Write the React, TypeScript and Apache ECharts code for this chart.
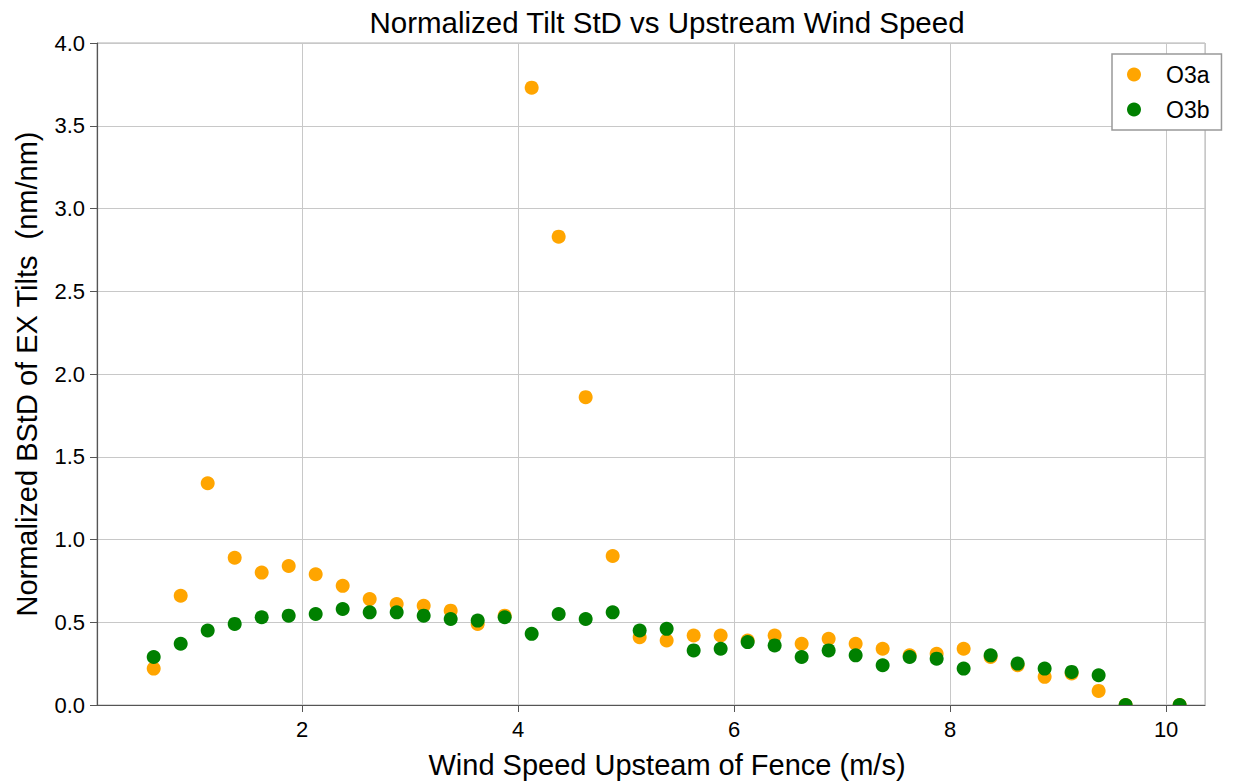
import React, { useEffect, useRef } from "react";
import * as echarts from "echarts";

const windSpeed = [
  0.625, 0.875, 1.125, 1.375, 1.625, 1.875, 2.125, 2.375, 2.625, 2.875,
  3.125, 3.375, 3.625, 3.875, 4.125, 4.375, 4.625, 4.875, 5.125, 5.375,
  5.625, 5.875, 6.125, 6.375, 6.625, 6.875, 7.125, 7.375, 7.625, 7.875,
  8.125, 8.375, 8.625, 8.875, 9.125, 9.375, 9.625, 10.125,
];

const o3a = [
  0.22, 0.66, 1.34, 0.89, 0.8, 0.84, 0.79, 0.72, 0.64, 0.61,
  0.6, 0.57, 0.49, 0.54, 3.73, 2.83, 1.86, 0.9, 0.41, 0.39,
  0.42, 0.42, 0.39, 0.42, 0.37, 0.4, 0.37, 0.34, 0.3, 0.31,
  0.34, 0.29, 0.24, 0.17, 0.19, 0.085, 0.0, 0.0,
];

const o3b = [
  0.29, 0.37, 0.45, 0.49, 0.53, 0.54, 0.55, 0.58, 0.56, 0.56,
  0.54, 0.52, 0.51, 0.53, 0.43, 0.55, 0.52, 0.56, 0.45, 0.46,
  0.33, 0.34, 0.38, 0.36, 0.29, 0.33, 0.3, 0.24, 0.29, 0.28,
  0.22, 0.3, 0.25, 0.22, 0.2, 0.18, 0.0, 0.0,
];

const seriesNames = ["O3a", "O3b"];
const seriesColors = ["#FFA500", "#008000"];

const FONT = "'Liberation Sans', Arial, Helvetica, sans-serif";

export default function App() {
  const ref = useRef<HTMLDivElement>(null);
  useEffect(() => {
    if (!ref.current) return;
    const chart = echarts.init(ref.current, null, { renderer: "svg" });
    const toPairs = (ys: number[]) => windSpeed.map((x, i) => [x, ys[i]]);
    const renderDot = (params: any, api: any) => {
      const p = api.coord([api.value(0), api.value(1)]);
      return {
        type: "circle",
        shape: { cx: p[0], cy: p[1], r: 7 },
        style: { fill: api.visual("color") },
      };
    };
    chart.setOption({
      animation: false,
      backgroundColor: "#ffffff",
      textStyle: { fontFamily: FONT },
      title: {
        text: "Normalized Tilt StD vs Upstream Wind Speed",
        left: 662,
        top: 2,
        textAlign: "center",
        textStyle: { fontFamily: FONT, fontSize: 29.5, fontWeight: "normal", color: "#000" },
      },
      legend: {
        orient: "vertical",
        left: 1112,
        top: 54,
        padding: [9, 12, 9, 15],
        itemGap: 12,
        itemWidth: 14,
        itemHeight: 14,
        icon: "circle",
        borderColor: "#999",
        borderWidth: 1.5,
        borderRadius: 0,
        backgroundColor: "#fff",
        textStyle: { fontFamily: FONT, fontSize: 23, color: "#000", padding: [0, 0, 0, 20] },
        data: seriesNames,
      },
      grid: {
        left: 97,
        right: 1233 - 1205,
        top: 43,
        bottom: 784 - 706,
        show: true,
        borderColor: "#b0b0b0",
        borderWidth: 1,
      },
      xAxis: {
        type: "value",
        min: 0.1,
        max: 10.36,
        splitNumber: 5,
        name: "Wind Speed Upsteam of Fence (m/s)",
        nameLocation: "middle",
        nameGap: 45,
        nameTextStyle: { fontFamily: FONT, fontSize: 29, color: "#000", padding: [0, 0, 0, 32] },
        axisLine: { show: true, lineStyle: { color: "#555", width: 1.2 } },
        axisTick: { show: true, length: 7, lineStyle: { color: "#555" } },
        axisLabel: {
          showMinLabel: false,
          showMaxLabel: false,
          fontFamily: FONT,
          fontSize: 22,
          color: "#000",
          margin: 13,
        },
        splitLine: { show: true, lineStyle: { color: "#c8c8c8", width: 1 } },
      },
      yAxis: {
        type: "value",
        min: 0,
        max: 4,
        interval: 0.5,
        name: "Normalized BStD of EX Tilts  (nm/nm)",
        nameLocation: "middle",
        nameGap: 56,
        nameTextStyle: { fontFamily: FONT, fontSize: 29, color: "#000" },
        axisLine: { show: true, lineStyle: { color: "#555", width: 1.2 } },
        axisTick: { show: true, length: 7, lineStyle: { color: "#555" } },
        axisLabel: {
          fontFamily: FONT,
          fontSize: 22,
          color: "#000",
          margin: 12,
          formatter: (v: number) => v.toFixed(1),
        },
        splitLine: { show: true, lineStyle: { color: "#c8c8c8", width: 1 } },
      },
      series: [
        {
          name: seriesNames[0],
          type: "custom",
          data: toPairs(o3a),
          encode: { x: 0, y: 1 },
          renderItem: renderDot,
          clip: true,
          itemStyle: { color: seriesColors[0] },
          z: 2,
        },
        {
          name: seriesNames[1],
          type: "custom",
          data: toPairs(o3b),
          encode: { x: 0, y: 1 },
          renderItem: renderDot,
          clip: true,
          itemStyle: { color: seriesColors[1] },
          z: 3,
        },
      ],
    });
    return () => chart.dispose();
  }, []);
  return (
    <div
      ref={ref}
      style={{ position: "absolute", left: 0, top: 0, width: 1233, height: 784 }}
    />
  );
}
